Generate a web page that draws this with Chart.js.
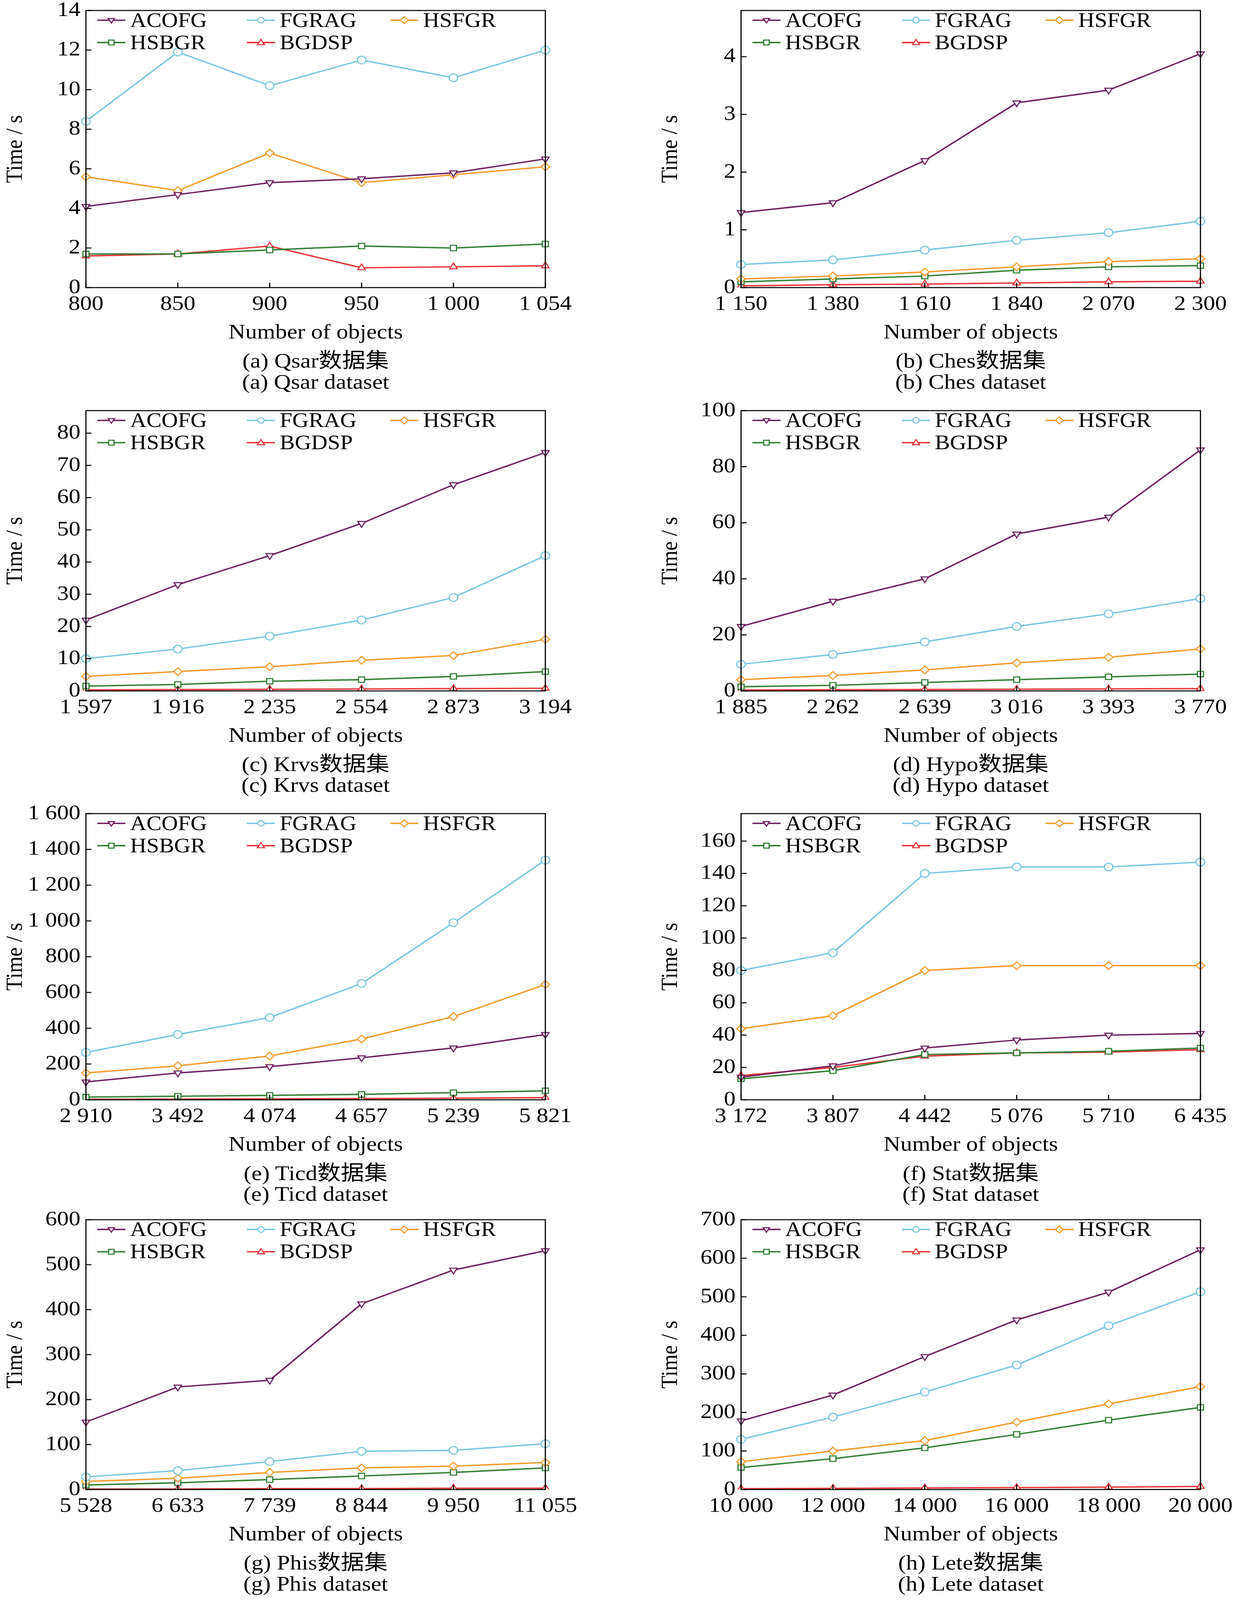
<!DOCTYPE html>
<html><head><meta charset="utf-8">
<script src="https://cdn.jsdelivr.net/npm/chart.js@4.4.1/dist/chart.umd.min.js"></script>
<style>
html,body{margin:0;background:#fff;overflow:hidden;}
#wrap{position:absolute;left:0;top:0;width:3164px;height:4590px;transform-origin:0 0;font-family:"Liberation Serif","Noto Sans CJK SC",serif;}
.cv{position:absolute;}
.leg{position:absolute;font-size:58px;line-height:62px;color:#000;}
.li{position:absolute;white-space:nowrap;display:flex;align-items:center;}
.li svg{margin-right:12px;}
.cap{position:absolute;font-size:60px;transform:translateX(-50%);white-space:nowrap;font-family:"Liberation Serif","Noto Sans CJK SC",serif;}
</style></head><body>
<div id="wrap"></div>
<script>
const seriesNames=["ACOFG","FGRAG","HSFGR","HSBGR","BGDSP"];
const colors=["#6b1f5e","#79c6e0","#f39a2b","#2f7d32","#e8363a"];
const styles=["triangle","circle","rectRot","rect","triangle"];
const rots=[180,0,0,0,0];

const xA=["800","850","900","950","1 000","1 054"];
const aACOFG=[4.1,4.7,5.3,5.5,5.8,6.5],aFGRAG=[8.4,11.9,10.2,11.5,10.6,12.0],aHSFGR=[5.6,4.9,6.8,5.3,5.7,6.1],aHSBGR=[1.7,1.7,1.9,2.1,2.0,2.2],aBGDSP=[1.6,1.7,2.1,1.0,1.05,1.1];
const xB=["1 150","1 380","1 610","1 840","2 070","2 300"];
const bACOFG=[1.3,1.47,2.2,3.2,3.42,4.05],bFGRAG=[0.4,0.48,0.65,0.82,0.95,1.15],bHSFGR=[0.15,0.2,0.27,0.36,0.45,0.5],bHSBGR=[0.1,0.15,0.2,0.3,0.36,0.38],bBGDSP=[0.03,0.05,0.06,0.08,0.1,0.11];
const xC=["1 597","1 916","2 235","2 554","2 873","3 194"];
const cACOFG=[22,33,42,52,64,74],cFGRAG=[10,13,17,22,29,42],cHSFGR=[4.5,6,7.5,9.5,11,16],cHSBGR=[1.5,2,3,3.5,4.5,6],cBGDSP=[0.3,0.4,0.5,0.6,0.7,0.8];
const xD=["1 885","2 262","2 639","3 016","3 393","3 770"];
const dACOFG=[23,32,40,56,62,86],dFGRAG=[9.5,13,17.5,23,27.5,33],dHSFGR=[4,5.5,7.5,10,12,15],dHSBGR=[1.5,2,3,4,5,6],dBGDSP=[0.3,0.4,0.5,0.6,0.7,0.8];
const xE=["2 910","3 492","4 074","4 657","5 239","5 821"];
const eACOFG=[100,150,185,235,290,365],eFGRAG=[265,365,460,650,990,1340],eHSFGR=[150,190,245,340,465,645],eHSBGR=[15,20,25,30,40,50],eBGDSP=[3,4,5,7,9,12];
const xF=["3 172","3 807","4 442","5 076","5 710","6 435"];
const fACOFG=[14,21,32,37,40,41],fFGRAG=[80,91,140,144,144,147],fHSFGR=[44,52,80,83,83,83],fHSBGR=[13,18,28,29,30,32],fBGDSP=[15,20,27,29,29.5,31];
const xG=["5 528","6 633","7 739","8 844","9 950","11 055"];
const gACOFG=[150,228,243,413,488,531],gFGRAG=[28,42,62,85,87,102],gHSFGR=[18,25,38,48,52,60],gHSBGR=[10,15,22,30,38,48],gBGDSP=[1,1,2,2,3,3];
const xH=["10 000","12 000","14 000","16 000","18 000","20 000"];
const hACOFG=[178,245,345,440,512,622],hFGRAG=[130,188,253,323,425,513],hHSFGR=[72,100,127,175,222,267],hHSBGR=[57,80,108,143,180,213],hBGDSP=[2,3,4,5,6,8];

const yMax=[14,4.8,87,100,1600,177,600,700];
const yStep=[2,1,10,20,200,20,100,100];
const capCN=["(a) Qsar数据集","(b) Ches数据集","(c) Krvs数据集","(d) Hypo数据集","(e) Ticd数据集","(f) Stat数据集","(g) Phis数据集","(h) Lete数据集"];
const capEN=["(a) Qsar dataset","(b) Ches dataset","(c) Krvs dataset","(d) Hypo dataset","(e) Ticd dataset","(f) Stat dataset","(g) Phis dataset","(h) Lete dataset"];

const panels=[
 [xA,[aACOFG,aFGRAG,aHSFGR,aHSBGR,aBGDSP]],[xB,[bACOFG,bFGRAG,bHSFGR,bHSBGR,bBGDSP]],
 [xC,[cACOFG,cFGRAG,cHSFGR,cHSBGR,cBGDSP]],[xD,[dACOFG,dFGRAG,dHSFGR,dHSBGR,dBGDSP]],
 [xE,[eACOFG,eFGRAG,eHSFGR,eHSBGR,eBGDSP]],[xF,[fACOFG,fFGRAG,fHSFGR,fHSBGR,fBGDSP]],
 [xG,[gACOFG,gFGRAG,gHSFGR,gHSBGR,gBGDSP]],[xH,[hACOFG,hFGRAG,hHSFGR,hHSBGR,hBGDSP]]];
const rows=[[23,825],[1171,1982],[2327,3155],[3492,4273]];
const colLeft=[220,1897], plotW=1176, YW=220, PT=35, XH=170;
const wrap=document.getElementById('wrap');
const sx=(window.innerWidth||3164)/3164, sy=(window.innerHeight||4590)/4590;
wrap.style.transform=`scale(${sx},${sy})`;

const fmt=v=>{let s=String(v);if(Math.abs(v)>=1000){s=s.replace(/\B(?=(\d{3})+(?!\d))/g," ");}return s;};
const frame={id:'frame',afterDraw(ch){const a=ch.chartArea,c=ch.ctx;c.save();c.strokeStyle='#000';c.lineWidth=3;
 c.strokeRect(a.left,a.top,a.right-a.left,a.bottom-a.top);
 const xs=ch.scales.x,ys=ch.scales.y;
 xs.ticks.forEach((t,i)=>{const p=xs.getPixelForTick(i);c.beginPath();c.moveTo(p,a.bottom);c.lineTo(p,a.bottom-14);c.stroke();});
 ys.ticks.forEach((t,i)=>{const p=ys.getPixelForTick(i);c.beginPath();c.moveTo(a.left,p);c.lineTo(a.left+14,p);c.stroke();});
 c.restore();}};

function marker(i){const col=colors[i];let shape="";
 if(i==0)shape=`<polygon points="36,30 28,17 44,17" fill="#fff" stroke="${col}" stroke-width="3"/>`;
 if(i==1)shape=`<circle cx="36" cy="22" r="8" fill="#fff" stroke="${col}" stroke-width="3"/>`;
 if(i==2)shape=`<polygon points="36,12 46,22 36,32 26,22" fill="#fff" stroke="${col}" stroke-width="3"/>`;
 if(i==3)shape=`<rect x="29" y="15" width="14" height="14" fill="#fff" stroke="${col}" stroke-width="3"/>`;
 if(i==4)shape=`<polygon points="36,13 45,28 27,28" fill="#fff" stroke="${col}" stroke-width="3"/>`;
 return `<svg width="72" height="44"><line x1="0" y1="22" x2="72" y2="22" stroke="${col}" stroke-width="4"/>${shape}</svg>`;}

panels.forEach((p,k)=>{
 const r=rows[Math.floor(k/2)], col=k%2, left=colLeft[col];
 const plotH=r[1]-r[0];
 const cv=document.createElement('canvas');cv.className='cv';
 const W=YW+plotW+90,H=PT+plotH+XH;
 cv.style.left=(left-YW)+'px';cv.style.top=(r[0]-PT)+'px';cv.style.width=W+'px';cv.style.height=H+'px';
 cv.width=W;cv.height=H;wrap.appendChild(cv);
 new Chart(cv,{type:'line',plugins:[frame],
  data:{labels:p[0],datasets:p[1].map((d,i)=>({label:seriesNames[i],data:d,borderColor:colors[i],backgroundColor:'#fff',
   borderWidth:4,pointStyle:styles[i],pointRotation:rots[i],pointRadius:11,pointBorderWidth:3,tension:0}))},
  options:{responsive:false,animation:false,devicePixelRatio:1,
   layout:{padding:{top:PT,right:90,left:0,bottom:0}},
   plugins:{legend:{display:false},tooltip:{enabled:false}},
   scales:{
    x:{offset:false,grid:{display:false},border:{display:false},
     ticks:{color:'#000',font:{family:'Liberation Serif',size:60},maxRotation:0,autoSkip:false,padding:4},
     title:{display:true,text:'Number of objects',color:'#000',font:{family:'Liberation Serif',size:60},padding:{top:0}},
     afterFit(s){s.height=XH;}},
    y:{min:0,max:yMax[k],grid:{display:false},border:{display:false},
     ticks:{stepSize:yStep[k],includeBounds:false,color:'#000',font:{family:'Liberation Serif',size:60},callback:v=>fmt(v),padding:6},
     title:{display:true,text:'Time / s',color:'#000',font:{family:'Liberation Serif',size:60},padding:{bottom:0}},
     afterFit(s){s.width=YW;}}}}});
 const lg=document.createElement('div');lg.className='leg';lg.style.left=(left+29)+'px';lg.style.top=(r[0]+4)+'px';
 const pos=[[0,0],[383,0],[750,0],[0,64],[383,64]];
 lg.innerHTML=seriesNames.map((n,i)=>`<div class="li" style="left:${pos[i][0]}px;top:${pos[i][1]}px">${marker(i)}${n}</div>`).join('');
 wrap.appendChild(lg);
 const cx=left+plotW/2;
 [[capCN[k],r[1]+160],[capEN[k],r[1]+236]].forEach(([t,y])=>{const d=document.createElement('div');d.className='cap';d.textContent=t;d.style.left=cx+'px';d.style.top=y+'px';wrap.appendChild(d);});
});
</script>
</body></html>
